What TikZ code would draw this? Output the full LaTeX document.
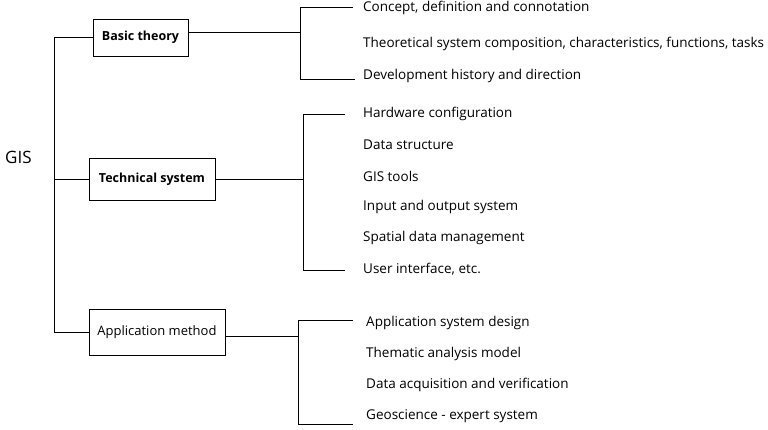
\documentclass[tikz,border=0pt]{standalone}
\usepackage{fontspec}
\setmainfont{Open Sans}
\begin{document}
\begin{tikzpicture}[x=1pt,y=-1pt,
  box/.style={draw,line width=0.9pt,inner sep=0pt,font=\fontsize{13}{15}\selectfont},
  item/.style={anchor=west,inner sep=0pt,font=\fontsize{13.5}{15}\selectfont},
  ln/.style={line width=0.9pt}]
\useasboundingbox (0,0) rectangle (768,430);
\node[anchor=west,inner sep=0pt,font=\fontsize{17}{19}\selectfont] (gis) at (5,157) {GIS};
\node[box,minimum width=95pt,minimum height=37pt,font=\bfseries\fontsize{12.5}{14}\selectfont] (b1) at (140.5,37.5) {Basic theory};
\node[box,minimum width=126pt,minimum height=42pt,font=\bfseries\fontsize{12.5}{14}\selectfont] (b2) at (152,179) {Technical system};
\node[box,minimum width=136pt,minimum height=46pt] (b3) at (157,332) {Application method};
% trunk
\coordinate (t1) at (54,37.5);
\coordinate (t3) at (54,332);
\draw[ln] (b1.west) -- (t1) -- (t3) -- (b3.west);
\draw[ln] (b2.west) -- (b2.west -| t1);
% basic theory items
\node[item] (a1) at (363,8) {Concept, definition and connotation};
\node[item] (a2) at (363,44) {Theoretical system composition, characteristics, functions, tasks};
\node[item] (a3) at (363,76) {Development history and direction};
\coordinate (ba) at (300,7);
\coordinate (bb) at (300,79);
\coordinate (bc) at (300,32);
\coordinate (ea) at (353,7);
\coordinate (eb) at (355,79);
\draw[ln] (ea) -- (ba) -- (bb) -- (eb);
\draw[ln] (b1.east |- bc) -- (bc);
% technical items
\node[item] (c1) at (363,114) {Hardware configuration};
\node[item] (c2) at (363,145) {Data structure};
\node[item] (c3) at (363,176) {GIS tools};
\node[item] (c4) at (363,207) {Input and output system};
\node[item] (c5) at (363,238) {Spatial data management};
\node[item] (c6) at (363,269) {User interface, etc.};
\coordinate (ca) at (303,114);
\coordinate (cb) at (303,270);
\coordinate (ce1) at (345,114);
\coordinate (ce2) at (345,270);
\draw[ln] (ce1) -- (ca) -- (cb) -- (ce2);
\draw[ln] (b2.east) -- (b2.east -| ca);
% application items
\node[item] (d1) at (366,323) {Application system design};
\node[item] (d2) at (366,354) {Thematic analysis model};
\node[item] (d3) at (366,385) {Data acquisition and verification};
\node[item] (d4) at (366,416) {Geoscience - expert system};
\coordinate (da) at (298,320);
\coordinate (db) at (298,424);
\coordinate (de1) at (353,320);
\coordinate (de2) at (353,424);
\draw[ln] (de1) -- (da) -- (db) -- (de2);
\draw[ln] (b3.east |- 0,336) -- (da |- 0,336);
\end{tikzpicture}
\end{document}
